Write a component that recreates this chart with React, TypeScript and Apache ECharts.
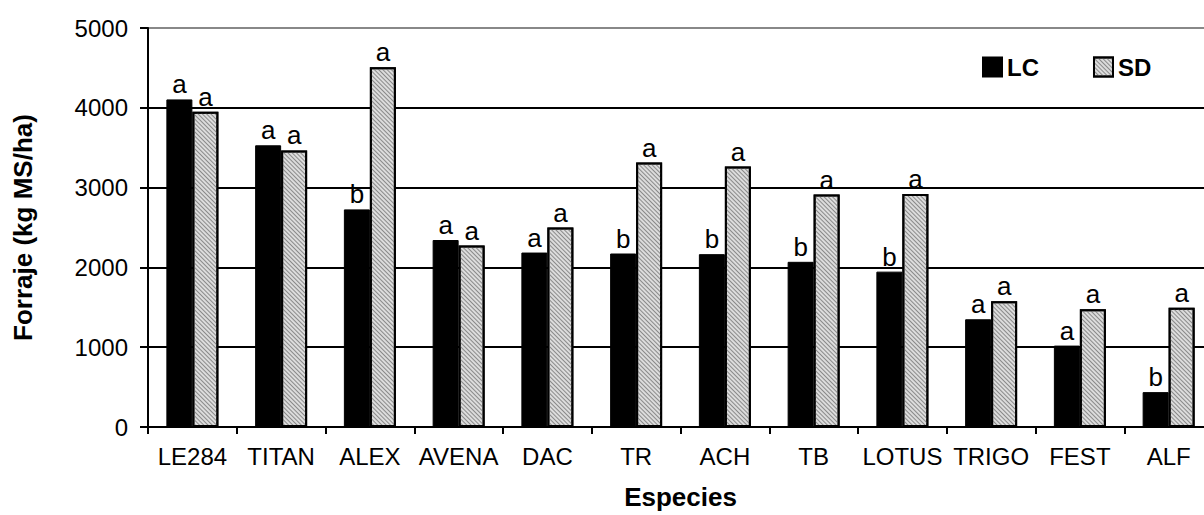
import React, { useEffect, useRef } from "react";
import * as echarts from "echarts";

const categories = ["LE284", "TITAN", "ALEX", "AVENA", "DAC", "TR", "ACH", "TB", "LOTUS", "TRIGO", "FEST", "ALF"];
const lcValues = [4105, 3530, 2727, 2343, 2186, 2174, 2166, 2070, 1947, 1350, 1020, 437];
const sdValues = [3952, 3465, 4509, 2273, 2500, 3313, 3263, 2912, 2921, 1575, 1476, 1494];
const lcLetters = ["a", "a", "b", "a", "a", "b", "b", "b", "b", "a", "a", "b"];
const sdLetters = ["a", "a", "a", "a", "a", "a", "a", "a", "a", "a", "a", "a"];
const yTicks = [0, 1000, 2000, 3000, 4000, 5000];

const FONT = "'Liberation Sans', Arial, sans-serif";

export default function App() {
  const ref = useRef<HTMLDivElement>(null);
  useEffect(() => {
    if (!ref.current) return;
    const chart = echarts.init(ref.current, undefined, { renderer: "svg" });
    chart.setOption({
      animation: false,
      backgroundColor: "#ffffff",
      textStyle: { fontFamily: FONT },
      grid: { left: 148, right: 17, top: 28, bottom: 85, containLabel: false },
      legend: {
        left: 977,
        top: 50,
        itemWidth: 19,
        itemHeight: 19,
        itemGap: 54,
        icon: "rect",
        textStyle: { fontFamily: FONT, fontSize: 24, fontWeight: "bold", color: "#000" },
        data: ["LC", "SD"],
      },
      xAxis: {
        type: "category",
        data: categories,
        name: "Especies",
        nameLocation: "middle",
        nameGap: 57,
        nameTextStyle: { fontFamily: FONT, fontSize: 26, fontWeight: "bold", color: "#000" },
        axisLine: { lineStyle: { color: "#000", width: 2 } },
        axisTick: { show: true, length: 7, lineStyle: { color: "#000", width: 2 } },
        axisLabel: { fontFamily: FONT, fontSize: 24, color: "#000", margin: 17, interval: 0 },
      },
      yAxis: {
        type: "value",
        min: yTicks[0],
        max: yTicks[yTicks.length - 1],
        interval: 1000,
        name: "Forraje (kg MS/ha)",
        nameLocation: "middle",
        nameRotate: 90,
        nameGap: 112,
        nameTextStyle: { fontFamily: FONT, fontSize: 26, fontWeight: "bold", color: "#000" },
        axisLine: { show: true, lineStyle: { color: "#000", width: 2 } },
        axisTick: { show: true, length: 8, inside: false, lineStyle: { color: "#000", width: 2 } },
        axisLabel: {
          fontFamily: FONT,
          fontSize: 24,
          color: "#000",
          margin: 20,
          formatter: (v: number) => String(v),
        },
        splitLine: {
          show: true,
          lineStyle: { color: ["#000", "#000", "#000", "#000", "#000", "#888"], width: 2 },
        },
      },
      series: [
        {
          name: "LC",
          type: "bar",
          data: lcValues,
          barWidth: 26,
          barGap: "0%",
          itemStyle: { color: "#000", borderColor: "#000", borderWidth: 1 },
          label: {
            show: true,
            position: "top",
            distance: 2,
            fontFamily: FONT,
            fontSize: 26,
            color: "#000",
            formatter: (p: any) => lcLetters[p.dataIndex],
          },
        },
        {
          name: "SD",
          type: "bar",
          data: sdValues,
          barWidth: 26,
          barGap: "0%",
          itemStyle: {
            color: "#dcdcdc",
            borderColor: "#000",
            borderWidth: 2,
            decal: {
              symbol: "rect",
              symbolSize: 1,
              dashArrayX: [[1, 0]],
              dashArrayY: [1, 1.5],
              rotation: Math.PI / 4,
              color: "#8a8a8a",
            },
          },
          label: {
            show: true,
            position: "top",
            distance: 2,
            fontFamily: FONT,
            fontSize: 26,
            color: "#000",
            formatter: (p: any) => sdLetters[p.dataIndex],
          },
        },
      ],
    });
    return () => chart.dispose();
  }, []);
  return (
    <div style={{ position: "absolute", left: 0, top: 0, width: 1204, height: 515, overflow: "hidden", background: "#fff" }}>
      <div ref={ref} style={{ width: 1230, height: 515 }} />
    </div>
  );
}
